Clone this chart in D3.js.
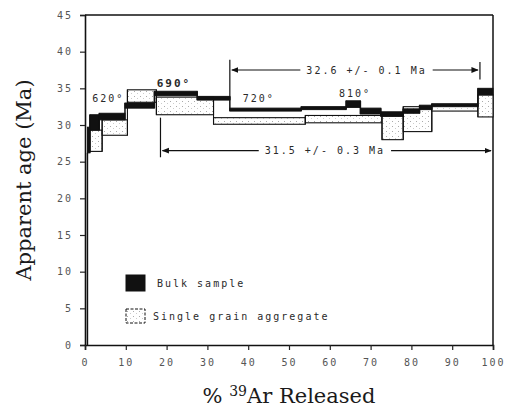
<!DOCTYPE html>
<html>
<head>
<meta charset="utf-8">
<script src="https://cdn.jsdelivr.net/npm/d3@7"></script>
<style>
  body { margin: 0; background: #fff; }
  svg { display: block; }
  .mono { font-family: "DejaVu Sans Mono", monospace; font-size: 10px; letter-spacing: 2px; fill: #2a2a2a; }
  .title { font-family: "DejaVu Serif", serif; font-size: 21px; fill: #1a1a1a; }
</style>
</head>
<body>
<svg id="chart" width="509" height="411"></svg>
<script>
// ticks
const ageTicks = [0, 5, 10, 15, 20, 25, 30, 35, 40, 45];
const pctTicks = [0, 10, 20, 30, 40, 50, 60, 70, 80, 90, 100];

// bulk sample steps (cumulative % 39Ar boundaries, age box low/high in Ma)
const bulkPct  = [0.6, 1.2, 3.5, 9.8, 17, 27.5, 35.5, 53, 64, 67.5, 72.5, 78, 82, 85, 96.3, 100];
const bulkLow  = [26.2, 29.3, 30.7, 32.3, 34.0, 33.4, 31.9, 32.1, 32.4, 31.5, 31.2, 31.6, 32.1, 32.5, 34.1];
const bulkHigh = [29.7, 31.4, 31.6, 33.0, 34.6, 33.9, 32.3, 32.5, 33.3, 32.3, 31.8, 32.2, 32.7, 32.8, 35.0];
const startAge = 0;

// single grain aggregate steps
const sgPct  = [1.2, 4.2, 10.4, 17.5, 31.5, 54, 72.8, 78, 85, 96.3, 100];
const sgLow  = [26.4, 28.6, 33.1, 31.4, 30.1, 30.3, 28.0, 29.1, 31.9, 31.1];
const sgHigh = [29.3, 30.7, 34.8, 33.8, 31.0, 31.3, 31.2, 32.5, 32.9, 34.1];

// temperature labels
const tempLabels = ["620°", "690°", "720°", "810°"];
const tempPct    = [5.7, 21.8, 42.6, 66.2];
const tempAge    = [33.1, 35.2, 33.1, 33.8];

// plateau annotations
const plateauLabels   = ["32.6 +/- 0.1 Ma", "31.5 +/- 0.3 Ma"];
const plateauStart    = [35.5, 18.5];
const plateauEnd      = [96.8, 100];
const plateauTextPct  = [69, 58.8];
const plateauArrowAge = [37.5, 26.5];
const plateauLeftBar  = [[33.4, 38.9], [25.6, 31.0]];
const plateauRightBar = [[36.2, 38.6], null];

const legendLabels = ["Bulk sample", "Single grain aggregate"];

const margin = { top: 15, right: 16, bottom: 66, left: 85 };
const W = 509, H = 411;
const width = W - margin.left - margin.right;
const height = H - margin.top - margin.bottom;

const svg = d3.select("#chart");
const defs = svg.append("defs");

// stipple for the single grain boxes
const pat = defs.append("pattern")
  .attr("id", "dots").attr("patternUnits", "userSpaceOnUse")
  .attr("width", 6).attr("height", 5);
pat.append("rect").attr("width", 6).attr("height", 5).attr("fill", "#fff");
pat.append("rect").attr("x", 1).attr("y", 1).attr("width", 1).attr("height", 1).attr("fill", "#aaa");
pat.append("rect").attr("x", 4).attr("y", 3).attr("width", 1).attr("height", 1).attr("fill", "#ccc");

defs.append("marker")
  .attr("id", "arrow").attr("viewBox", "0 0 10 10")
  .attr("refX", 9).attr("refY", 5)
  .attr("markerWidth", 6).attr("markerHeight", 6)
  .attr("orient", "auto-start-reverse")
  .append("path").attr("d", "M0,1 L10,5 L0,9 Z").attr("fill", "#111");

const chart = svg.append("g").attr("transform", `translate(${margin.left},${margin.top})`);

const x = d3.scaleLinear().domain([0, 100]).range([0, width]);
const y = d3.scaleLinear().domain([0, 45]).range([height, 0]);

// frame top + right
chart.append("line").attr("x1", 0).attr("x2", width).attr("y1", 0).attr("y2", 0)
  .attr("stroke", "#111").attr("stroke-width", 1.5);
chart.append("line").attr("x1", width).attr("x2", width).attr("y1", 0).attr("y2", height)
  .attr("stroke", "#111").attr("stroke-width", 1.5);

// axes
const yAxis = d3.axisLeft(y).tickValues(ageTicks).tickSize(5).tickPadding(7);
const xAxis = d3.axisBottom(x).tickValues(pctTicks).tickSize(5).tickPadding(9);

const yG = chart.append("g").call(yAxis);
const xG = chart.append("g").attr("transform", `translate(0,${height})`).call(xAxis);
[yG, xG].forEach(g => {
  g.select(".domain").attr("stroke", "#111").attr("stroke-width", 1.6);
  g.selectAll(".tick line").attr("stroke", "#222").attr("stroke-width", 1.2);
  g.selectAll(".tick text").attr("class", "mono").attr("font-family", null).attr("font-size", null)
    .style("fill", "#555");
});

// build step records
function steps(pct, lo, hi) {
  return lo.map((d, i) => ({ x0: pct[i], x1: pct[i + 1], lo: lo[i], hi: hi[i] }));
}
const bulk = steps(bulkPct, bulkLow, bulkHigh);
const sg = steps(sgPct, sgLow, sgHigh);

function connectors(data) {
  const out = [];
  for (let i = 0; i < data.length - 1; i++) {
    const a = data[i], b = data[i + 1];
    out.push({ x: a.x1, lo: Math.min(a.lo, b.lo), hi: Math.max(a.hi, b.hi) });
  }
  return out;
}

// single grain aggregate (white stippled boxes)
chart.append("g").selectAll("rect").data(sg).join("rect")
  .attr("x", d => x(d.x0)).attr("width", d => x(d.x1) - x(d.x0))
  .attr("y", d => y(d.hi)).attr("height", d => y(d.lo) - y(d.hi))
  .attr("fill", "url(#dots)").attr("stroke", "#111").attr("stroke-width", 1.1);
chart.append("g").selectAll("line").data(connectors(sg)).join("line")
  .attr("x1", d => x(d.x)).attr("x2", d => x(d.x))
  .attr("y1", d => y(d.lo)).attr("y2", d => y(d.hi))
  .attr("stroke", "#111").attr("stroke-width", 1.1);

// bulk sample (black boxes)
chart.append("line")
  .attr("x1", x(bulkPct[0])).attr("x2", x(bulkPct[0]))
  .attr("y1", y(startAge)).attr("y2", y(bulkLow[0]))
  .attr("stroke", "#111").attr("stroke-width", 1.5);
chart.append("g").selectAll("rect").data(bulk).join("rect")
  .attr("x", d => x(d.x0)).attr("width", d => x(d.x1) - x(d.x0))
  .attr("y", d => y(d.hi)).attr("height", d => y(d.lo) - y(d.hi))
  .attr("fill", "#111").attr("stroke", "#111").attr("stroke-width", 1);
chart.append("g").selectAll("line").data(connectors(bulk)).join("line")
  .attr("x1", d => x(d.x)).attr("x2", d => x(d.x))
  .attr("y1", d => y(d.lo)).attr("y2", d => y(d.hi))
  .attr("stroke", "#111").attr("stroke-width", 1.5);

// temperature labels
chart.append("g").selectAll("text").data(tempLabels).join("text")
  .attr("class", "mono")
  .attr("x", (d, i) => x(tempPct[i])).attr("y", (d, i) => y(tempAge[i]))
  .attr("text-anchor", "middle")
  .style("font-weight", (d, i) => i === 1 ? "bold" : "normal")
  .style("font-size", (d, i) => i === 1 ? "11px" : "10px")
  .text(d => d);

// plateau annotations
plateauLabels.forEach((lab, i) => {
  const g = chart.append("g");
  const ay = y(plateauArrowAge[i]);
  const t = g.append("text").attr("class", "mono")
    .attr("x", x(plateauTextPct[i])).attr("y", ay + 3.5)
    .attr("text-anchor", "middle").text(lab);
  const tw = t.node().getComputedTextLength();
  const tx0 = x(plateauTextPct[i]) - tw / 2 - 6, tx1 = x(plateauTextPct[i]) + tw / 2 + 6;
  g.append("line").attr("x1", tx0).attr("x2", x(plateauStart[i]) + 2)
    .attr("y1", ay).attr("y2", ay).attr("stroke", "#111").attr("stroke-width", 1.2)
    .attr("marker-end", "url(#arrow)");
  g.append("line").attr("x1", tx1).attr("x2", x(plateauEnd[i]) - 2)
    .attr("y1", ay).attr("y2", ay).attr("stroke", "#111").attr("stroke-width", 1.2)
    .attr("marker-end", "url(#arrow)");
  const lb = plateauLeftBar[i];
  g.append("line").attr("x1", x(plateauStart[i])).attr("x2", x(plateauStart[i]))
    .attr("y1", y(lb[0])).attr("y2", y(lb[1])).attr("stroke", "#111").attr("stroke-width", 1.2);
  const rb = plateauRightBar[i];
  if (rb) {
    g.append("line").attr("x1", x(plateauEnd[i])).attr("x2", x(plateauEnd[i]))
      .attr("y1", y(rb[0])).attr("y2", y(rb[1])).attr("stroke", "#111").attr("stroke-width", 1.2);
  }
});

// legend
const legend = chart.append("g").attr("transform", "translate(41,260)");
legendLabels.forEach((lab, i) => {
  const gy = i * 34;
  legend.append("rect").attr("x", 0).attr("y", gy).attr("width", 19).attr("height", i ? 14 : 16)
    .attr("fill", i ? "url(#dots)" : "#111")
    .attr("stroke", "#111").attr("stroke-width", 1)
    .attr("stroke-dasharray", i ? "3,1.5" : null);
  legend.append("text").attr("class", "mono")
    .attr("x", i ? 27 : 31).attr("y", gy + (i ? 11 : 12))
    .text(lab);
});

// axis titles
svg.append("text").attr("class", "title")
  .attr("transform", `translate(31,${margin.top + height / 2}) rotate(-90)`)
  .attr("text-anchor", "middle")
  .text("Apparent age (Ma)");

const xt = svg.append("text").attr("class", "title")
  .attr("x", margin.left + width / 2).attr("y", 403)
  .attr("text-anchor", "middle");
xt.append("tspan").text("% ");
xt.append("tspan").attr("dy", -7).style("font-size", "14px").text("39");
xt.append("tspan").attr("dy", 7).text("Ar Released");
</script>
</body>
</html>
